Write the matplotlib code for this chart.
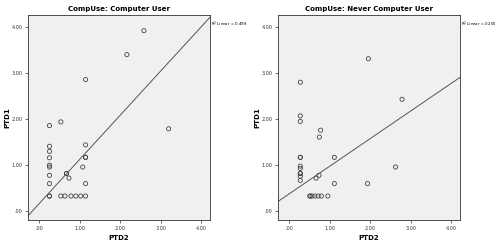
import matplotlib
matplotlib.use("Agg")
import matplotlib.pyplot as plt
import numpy as np

# CompUse: Computer User
user_ptd2 = [0.25, 0.53, 0.25, 0.25, 0.25, 0.25, 0.25, 0.25, 0.25, 0.25, 0.25,
             0.53, 0.63, 0.78, 0.90, 1.02, 1.14, 0.67, 0.67, 0.73, 1.07,
             1.14, 1.14, 1.14, 1.14, 1.14, 2.16, 2.58, 3.19]
user_ptd1 = [1.85, 1.93, 1.40, 1.29, 1.15, 0.99, 0.95, 0.77, 0.59, 0.32, 0.32,
             0.32, 0.32, 0.32, 0.32, 0.32, 0.32, 0.81, 0.81, 0.71, 0.95,
             1.16, 1.16, 1.43, 0.59, 2.85, 3.39, 3.91, 1.78]
user_fit = (0.96, 0.16)
user_r2 = "0.498"

# CompUse: Never Computer User
never_ptd2 = [0.27, 0.27, 0.27, 0.27, 0.27, 0.27, 0.27, 0.27, 0.27, 0.27, 0.27,
              0.51, 0.51, 0.56, 0.63, 0.71, 0.79, 0.95, 0.66, 0.73, 0.74,
              0.77, 1.11, 1.11, 1.93, 1.95, 2.62, 2.78]
never_ptd1 = [2.79, 2.06, 1.94, 1.16, 1.16, 0.97, 0.92, 0.81, 0.81, 0.75, 0.66,
              0.32, 0.32, 0.32, 0.32, 0.32, 0.32, 0.32, 0.71, 0.77, 1.60,
              1.75, 1.16, 0.59, 0.59, 3.30, 0.95, 2.42]
never_fit = (0.60, 0.37)
never_r2 = "0.205"

ticks = [0, 1, 2, 3, 4]
tick_labels = [".00", "1.00", "2.00", "3.00", "4.00"]

fig = plt.figure(figsize=(5, 2.5), dpi=100)

panels = [
    (0.056, "CompUse: Computer User", user_ptd2, user_ptd1, user_fit, user_r2),
    (0.556, "CompUse: Never Computer User", never_ptd2, never_ptd1, never_fit, never_r2),
]

for left, title, xs, ys, fit, r2 in panels:
    ax = fig.add_axes([left, 0.12, 0.364, 0.82])
    ax.set_facecolor("#f0f0f0")
    ax.scatter(xs, ys, s=9, facecolors="none", edgecolors="#444444", linewidths=0.6)
    xlim = (-0.28, 4.21)
    xx = np.array(xlim)
    ax.plot(xx, fit[0] * xx + fit[1], color="#555555", lw=0.7)
    ax.set_xlim(xlim)
    ax.set_ylim(-0.2, 4.25)
    ax.set_xticks(ticks)
    ax.set_xticklabels(tick_labels)
    ax.set_yticks(ticks)
    ax.set_yticklabels(tick_labels)
    ax.tick_params(labelsize=3.5, length=2, width=0.5, pad=2, colors="#333333")
    for sp in ax.spines.values():
        sp.set_linewidth(0.6)
        sp.set_color("#333333")
    ax.set_xlabel("PTD2", fontsize=5, fontweight="bold", labelpad=3)
    ax.set_ylabel("PTD1", fontsize=5, fontweight="bold", labelpad=1)
    ax.set_title(title, fontsize=5, fontweight="bold", pad=3)
    ax.text(1.003, 0.955, "R$^2$ Linear = " + r2, transform=ax.transAxes,
            fontsize=2.8, va="center", ha="left", clip_on=False)

fig.savefig("out.png", dpi=100)
